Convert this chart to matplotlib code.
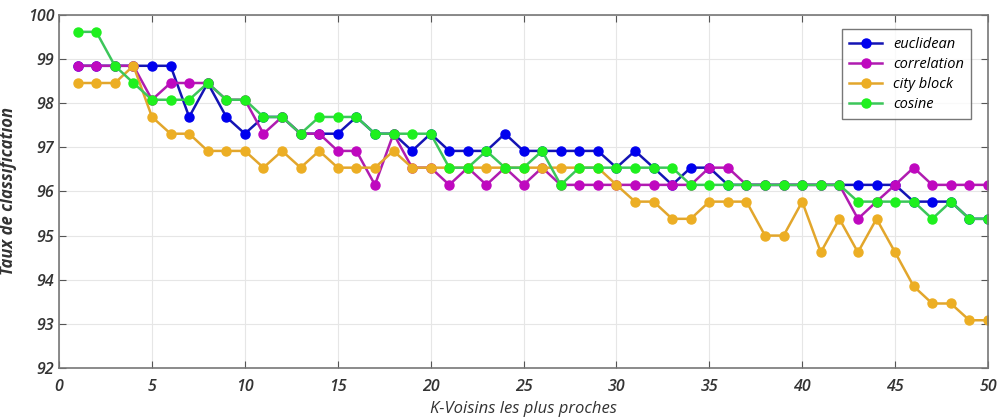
import numpy as np
import matplotlib.pyplot as plt

# K values 1..50
k = np.arange(1, 51)

euclidean = [98.85, 98.85, 98.85, 98.85, 98.85, 98.85, 97.69, 98.46, 97.69, 97.31,
             97.69, 97.69, 97.31, 97.31, 97.31, 97.69, 97.31, 97.31, 96.92, 97.31,
             96.92, 96.92, 96.92, 97.31, 96.92, 96.92, 96.92, 96.92, 96.92, 96.54,
             96.92, 96.54, 96.15, 96.54, 96.54, 96.15, 96.15, 96.15, 96.15, 96.15,
             96.15, 96.15, 96.15, 96.15, 96.15, 95.77, 95.77, 95.77, 95.38, 95.38]
correlation = [98.85, 98.85, 98.85, 98.85, 98.08, 98.46, 98.46, 98.46, 98.08, 98.08,
               97.31, 97.69, 97.31, 97.31, 96.92, 96.92, 96.15, 97.31, 96.54, 96.54,
               96.15, 96.54, 96.15, 96.54, 96.15, 96.54, 96.15, 96.15, 96.15, 96.15,
               96.15, 96.15, 96.15, 96.15, 96.54, 96.54, 96.15, 96.15, 96.15, 96.15,
               96.15, 96.15, 95.38, 95.77, 96.15, 96.54, 96.15, 96.15, 96.15, 96.15]
city_block = [98.46, 98.46, 98.46, 98.85, 97.69, 97.31, 97.31, 96.92, 96.92, 96.92,
              96.54, 96.92, 96.54, 96.92, 96.54, 96.54, 96.54, 96.92, 96.54, 96.54,
              96.54, 96.54, 96.54, 96.54, 96.54, 96.54, 96.54, 96.54, 96.54, 96.15,
              95.77, 95.77, 95.38, 95.38, 95.77, 95.77, 95.77, 95.00, 95.00, 95.77,
              94.62, 95.38, 94.62, 95.38, 94.62, 93.85, 93.46, 93.46, 93.08, 93.08]
cosine = [99.62, 99.62, 98.85, 98.46, 98.08, 98.08, 98.08, 98.46, 98.08, 98.08,
          97.69, 97.69, 97.31, 97.69, 97.69, 97.69, 97.31, 97.31, 97.31, 97.31,
          96.54, 96.54, 96.92, 96.54, 96.54, 96.92, 96.15, 96.54, 96.54, 96.54,
          96.54, 96.54, 96.54, 96.15, 96.15, 96.15, 96.15, 96.15, 96.15, 96.15,
          96.15, 96.15, 95.77, 95.77, 95.77, 95.77, 95.38, 95.77, 95.38, 95.38]

# name, values, line colour, marker colour
series = [('euclidean', euclidean, '#1414b4', '#0000ee'),
          ('correlation', correlation, '#b01cb0', '#bf08bf'),
          ('city block', city_block, '#e2a62c', '#ecae24'),
          ('cosine', cosine, '#3cc65a', '#1ef01e')]

plt.rcParams['font.family'] = ['Open Sans', 'DejaVu Sans']

fig = plt.figure(figsize=(10.02, 4.19), dpi=100)
ax = fig.add_axes([0.059, 0.122, 0.927, 0.842])

for name, vals, lc, mc in series:
    ax.plot(k, vals, '-o', color=lc, mfc=mc, mec=mc, lw=1.8, ms=6.5, label=name)

ax.set_xlim(0, 50)
ax.set_ylim(92, 100)
ax.set_xticks(range(0, 51, 5))
ax.set_yticks(range(92, 101))
ax.grid(True, color='#e6e6e6', lw=0.8)
ax.set_axisbelow(True)
ax.tick_params(direction='in', top=True, right=True, length=5, colors='#555555',
               labelcolor='#333333', labelsize=11.5)
ax.tick_params(axis='x', pad=8)
for lab in ax.get_xticklabels() + ax.get_yticklabels():
    lab.set_style('italic')
    lab.set_fontweight('semibold')
for sp in ax.spines.values():
    sp.set_color('#777777')
    sp.set_linewidth(1.2)

ax.set_xlabel('K-Voisins les plus proches', fontsize=12, style='italic', color='#333333', labelpad=4)
ax.set_ylabel('Taux de classification', fontsize=12, style='italic', fontweight='bold',
              color='#333333', labelpad=8)

leg = ax.legend(loc='upper right', bbox_to_anchor=(0.99, 0.98),
                prop={'style': 'italic', 'size': 10.5}, fancybox=False,
                edgecolor='#555555', handlelength=2.2, borderpad=0.5, labelspacing=0.35)
leg.get_frame().set_linewidth(1.0)

plt.savefig('out.png', dpi=100)
